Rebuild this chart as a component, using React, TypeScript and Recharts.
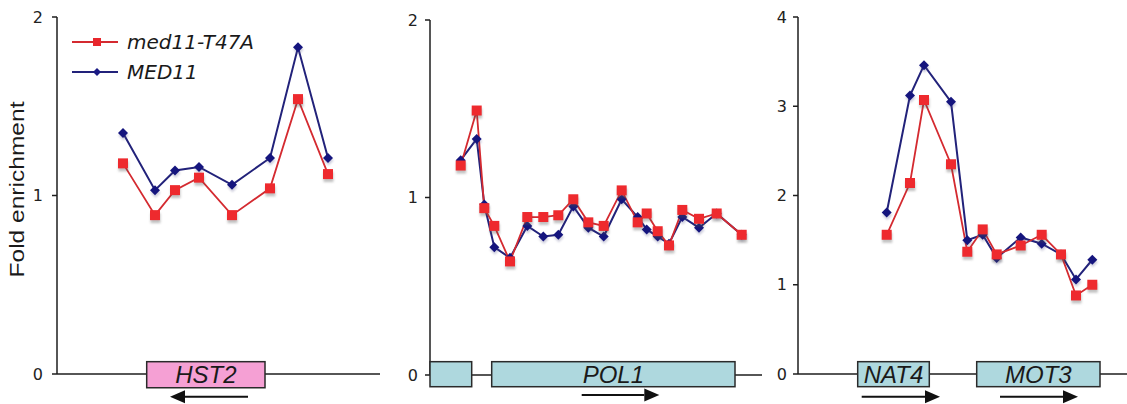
import React from 'react';
import { LineChart, Line, XAxis, YAxis, ReferenceArea, ReferenceLine, Legend } from 'recharts';

// ---------- series ----------
const SERIES = [
  { key: 'mut', name: 'med11-T47A', color: '#e8262c', line: '#d42a30', marker: 'square' },
  { key: 'wt', name: 'MED11', color: '#1a1a84', line: '#22227a', marker: 'diamond' },
];

// ---------- panel 1 : HST2 ----------
const hst2Pos = [660, 980, 1180, 1420, 1750, 2130, 2410, 2710];
const hst2Med11 = [1.35, 1.03, 1.14, 1.16, 1.06, 1.21, 1.83, 1.21];
const hst2Mut = [1.18, 0.89, 1.03, 1.1, 0.89, 1.04, 1.54, 1.12];
const hst2Ticks = [0, 1, 2];
const hst2Genes = [{ name: 'HST2', start: 897, end: 2080 }];
const hst2Arrows = [{ from: 1910, to: 1130 }];

// ---------- panel 2 : POL1 ----------
const pol1Pos = [307, 467, 543, 643, 800, 973, 1133, 1283, 1433, 1583, 1737, 1917, 2077, 2167, 2277, 2390, 2523, 2690, 2867, 3117];
const pol1Med11 = [1.21, 1.33, 0.96, 0.72, 0.66, 0.84, 0.78, 0.79, 0.95, 0.83, 0.78, 0.99, 0.89, 0.82, 0.78, 0.74, 0.89, 0.83, 0.91, 0.79];
const pol1Mut = [1.18, 1.49, 0.94, 0.84, 0.64, 0.89, 0.89, 0.9, 0.99, 0.86, 0.84, 1.04, 0.86, 0.91, 0.81, 0.73, 0.93, 0.88, 0.91, 0.79];
const pol1Ticks = [0, 1, 2];
const pol1Genes = [{ name: '', start: 0, end: 417 }, { name: 'POL1', start: 617, end: 3050 }];
const pol1Arrows = [{ from: 1517, to: 2293 }];

// ---------- panel 3 : NAT4 / MOT3 ----------
const motPos = [887, 1120, 1260, 1530, 1693, 1847, 1987, 2227, 2437, 2630, 2780, 2943];
const motMed11 = [1.81, 3.12, 3.46, 3.05, 1.5, 1.56, 1.3, 1.53, 1.46, 1.34, 1.06, 1.28];
const motMut = [1.56, 2.14, 3.07, 2.35, 1.37, 1.62, 1.34, 1.44, 1.56, 1.34, 0.88, 1.0];
const motTicks = [0, 1, 2, 3, 4];
const motGenes = [{ name: 'NAT4', start: 597, end: 1313 }, { name: 'MOT3', start: 1787, end: 3020 }];
const motArrows = [{ from: 637, to: 1420 }, { from: 2020, to: 2800 }];

const build = (pos: number[], wt: number[], mut: number[]) =>
  pos.map((x, i) => ({ x, wt: wt[i], mut: mut[i] }));

const PINK = '#f5a0d4';
const CYAN = '#aed8de';
const AXIS = '#1e1e1e';
const SQ = 10;
const DR = 5;

const SquareDot = (props: any) => {
  const { cx, cy, index } = props;
  if (cx == null || cy == null) return <g key={`s-${index}`} />;
  const h = SQ / 2;
  return (
    <g key={`s-${index}`}>
      <rect x={cx - h + 0.5} y={cy - h + 3} width={SQ} height={SQ} fill="rgba(80,80,80,0.35)" style={{ filter: 'blur(1px)' }} />
      <rect x={cx - h} y={cy - h} width={SQ} height={SQ} fill="#ee2a2e" />
    </g>
  );
};

const DiamondDot = (props: any) => {
  const { cx, cy, index } = props;
  if (cx == null || cy == null) return <g key={`d-${index}`} />;
  const pts = (ox: number, oy: number) =>
    `${cx + ox},${cy - DR + oy} ${cx + DR + ox},${cy + oy} ${cx + ox},${cy + DR + oy} ${cx - DR + ox},${cy + oy}`;
  return (
    <g key={`d-${index}`}>
      <polygon points={pts(0.5, 2.5)} fill="rgba(90,90,140,0.3)" style={{ filter: 'blur(1px)' }} />
      <polygon points={pts(0, 0)} fill="#15157e" />
    </g>
  );
};

const ArrowShape = (p: any) => {
  const { x1, y1, x2, y2 } = p;
  if (x1 == null || x2 == null) return <g />;
  const dir = x2 > x1 ? 1 : -1;
  const head = 15;
  const half = 6.5;
  const bx = x2 - dir * head;
  return (
    <g>
      <line x1={x1} y1={y1} x2={bx} y2={y2} stroke="#111" strokeWidth={2} />
      <polygon points={`${x2},${y2} ${bx},${y2 - half} ${bx},${y2 + half}`} fill="#111" />
    </g>
  );
};

const makeGeneShape = (name: string, fill: string) => (p: any) => {
  const { x, y, width, height } = p;
  if (x == null) return <g />;
  return (
    <g>
      <rect x={x} y={y} width={width} height={height} fill={fill} stroke="#2a2a2a" strokeWidth={1.5} />
      {name ? (
        <text
          x={x + width / 2}
          y={y + height / 2 + 8.5}
          textAnchor="middle"
          fontFamily="'Liberation Sans', Arial, sans-serif"
          fontStyle="italic"
          fontSize={24}
          fill="#1a1a1a"
        >
          {name}
        </text>
      ) : null}
    </g>
  );
};

const LegendContent = () => (
  <div style={{ fontFamily: "'DejaVu Sans', Verdana, sans-serif", fontStyle: 'italic', fontSize: 20, color: '#1a1a1a' }}>
    {SERIES.map((s) => (
      <div key={s.key} style={{ display: 'flex', alignItems: 'center', height: 30 }}>
        <svg width={55} height={30} style={{ display: 'block' }}>
          <line x1={0} y1={15} x2={46} y2={15} stroke={s.line} strokeWidth={2} />
          {s.marker === 'square' ? (
            <rect x={21} y={11} width={8} height={8} fill={s.color} />
          ) : (
            <polygon points="25,11 29,15 25,19 21,15" fill={s.color} />
          )}
        </svg>
        <span style={{ lineHeight: '30px' }}>{s.name}</span>
      </div>
    ))}
  </div>
);

const FoldLabel = (props: any) => {
  const vb = props.viewBox || { x: 0, y: 17, width: 57, height: 357 };
  const cx = vb.x + 24;
  const cy = vb.y + vb.height / 2 - 6;
  return (
    <text
      transform={`translate(${cx},${cy}) rotate(-90)`}
      x={0}
      y={0}
      textAnchor="middle"
      fontFamily="'Liberation Sans', Arial, sans-serif"
      fontSize={20}
      fill="#1a1a1a"
      textLength={176}
      lengthAdjust="spacingAndGlyphs"
    >
      Fold enrichment
    </text>
  );
};

type PanelProps = {
  left: number;
  width: number;
  yWidth: number;
  margin: { top: number; right: number; bottom: number; left: number };
  yMax: number;
  ticks: number[];
  xMax: number;
  data: any[];
  genes: { name: string; start: number; end: number }[];
  arrows: { from: number; to: number }[];
  boxY: [number, number];
  arrowY: number;
  fill: string;
  showLabel?: boolean;
  showLegend?: boolean;
  tickMargin: number;
};

const Panel = (p: PanelProps) => (
  <div style={{ position: 'absolute', left: p.left, top: 0 }}>
    <LineChart width={p.width} height={404} data={p.data} margin={p.margin}>
      <XAxis
        type="number"
        dataKey="x"
        domain={[0, p.xMax]}
        tick={false}
        tickLine={false}
        height={2}
        zIndex={50}
        axisLine={{ stroke: AXIS, strokeWidth: 1.5 }}
      />
      <YAxis
        type="number"
        domain={[0, p.yMax]}
        ticks={p.ticks}
        width={p.yWidth}
        tickSize={5}
        zIndex={50}
        tickMargin={p.tickMargin}
        axisLine={{ stroke: AXIS, strokeWidth: 1.5 }}
        tickLine={{ stroke: AXIS, strokeWidth: 1.5 }}
        tick={{ fontSize: 16, fill: '#222', fontFamily: "'DejaVu Sans', Verdana, sans-serif" }}
        label={p.showLabel ? { value: 'Fold enrichment', content: FoldLabel } : undefined}
      />
      {p.genes.map((g, i) => (
        <ReferenceArea
          key={`g-${i}`}
          x1={g.start}
          x2={g.end}
          y1={p.boxY[0]}
          y2={p.boxY[1]}
          ifOverflow="visible"
          zIndex={700}
          shape={makeGeneShape(g.name, p.fill)}
        />
      ))}
      {p.arrows.map((a, i) => (
        <ReferenceLine
          key={`a-${i}`}
          segment={[
            { x: a.from, y: p.arrowY },
            { x: a.to, y: p.arrowY },
          ]}
          ifOverflow="visible"
          zIndex={700}
          shape={ArrowShape}
        />
      ))}
      <Line
        dataKey="wt"
        name="MED11"
        stroke={SERIES[1].line}
        strokeWidth={2}
        dot={(d: any) => <DiamondDot {...d} />}
        activeDot={false}
        isAnimationActive={false}
      />
      <Line
        dataKey="mut"
        name="med11-T47A"
        stroke={SERIES[0].line}
        strokeWidth={1.8}
        dot={(d: any) => <SquareDot {...d} />}
        activeDot={false}
        isAnimationActive={false}
      />
      {p.showLegend && (
        <Legend
          layout="vertical"
          align="center"
          verticalAlign="middle"
          wrapperStyle={{ left: 72, top: 27, width: 'auto' }}
          content={LegendContent}
        />
      )}
    </LineChart>
  </div>
);

export default function App() {
  return (
    <div style={{ position: 'relative', width: 1127, height: 404, background: '#fff', overflow: 'hidden' }}>
      <style>{'body{margin:0;background:#fff}'}</style>
      <Panel
        left={0}
        width={385}
        yWidth={57}
        margin={{ top: 17, right: 5, bottom: 28, left: 0 }}
        yMax={2}
        ticks={hst2Ticks}
        xMax={3230}
        data={build(hst2Pos, hst2Med11, hst2Mut)}
        genes={hst2Genes}
        arrows={hst2Arrows}
        boxY={[-0.077, 0.069]}
        arrowY={-0.127}
        fill={PINK}
        showLabel
        showLegend
        tickMargin={9}
      />
      <Panel
        left={385}
        width={380}
        yWidth={45}
        margin={{ top: 20, right: 3, bottom: 27, left: 0 }}
        yMax={2}
        ticks={pol1Ticks}
        xMax={3320}
        data={build(pol1Pos, pol1Med11, pol1Mut)}
        genes={pol1Genes}
        arrows={pol1Arrows}
        boxY={[-0.066, 0.075]}
        arrowY={-0.113}
        fill={CYAN}
        tickMargin={7}
      />
      <Panel
        left={765}
        width={362}
        yWidth={33}
        margin={{ top: 17, right: 0, bottom: 28, left: 0 }}
        yMax={4}
        ticks={motTicks}
        xMax={3290}
        data={build(motPos, motMed11, motMut)}
        genes={motGenes}
        arrows={motArrows}
        boxY={[-0.142, 0.138]}
        arrowY={-0.254}
        fill={CYAN}
        tickMargin={6}
      />
    </div>
  );
}
